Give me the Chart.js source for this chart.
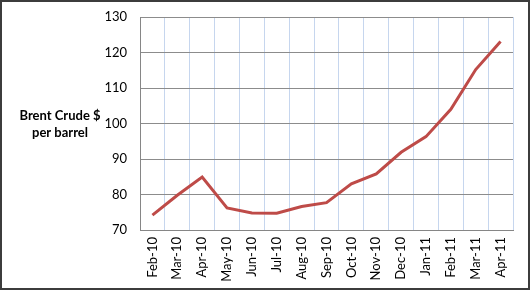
<!DOCTYPE html>
<html>
<head>
<meta charset="utf-8">
<script src="https://cdn.jsdelivr.net/npm/chart.js@4/dist/chart.umd.min.js"></script>
<style>
  html, body { margin: 0; padding: 0; background: #fff; }
  #wrap { width: 530px; height: 290px; }
</style>
</head>
<body>
<div id="wrap"><canvas id="oil-chart" width="530" height="290"></canvas></div>
<script>
// monthly Brent crude prices
const MONTHS = ["Feb-10", "Mar-10", "Apr-10", "May-10", "Jun-10", "Jul-10", "Aug-10", "Sep-10",
                "Oct-10", "Nov-10", "Dec-10", "Jan-11", "Feb-11", "Mar-11", "Apr-11"];
const BRENT = [74.2, 79.8, 84.9, 76.2, 74.8, 74.7, 76.6, 77.7,
               83.0, 85.8, 91.9, 96.3, 104.0, 115.2, 123.1];
const Y_TITLE = ["Brent Crude $", "per barrel"];

const FONT = "Lato, 'Liberation Sans', sans-serif";

// frame + horizontal axis title, as in the spreadsheet chart
const decor = {
    id: "decor",
    afterDraw(chart) {
        const ctx = chart.ctx;
        ctx.save();
        ctx.strokeStyle = "#3c3c3c";
        ctx.lineWidth = 2;
        ctx.strokeRect(1, 1, chart.width - 2, chart.height - 2);
        ctx.fillStyle = "#000";
        ctx.font = "bold 13px " + FONT;
        ctx.textAlign = "center";
        ctx.textBaseline = "middle";
        ctx.fillText(Y_TITLE[0], 60, 116);
        ctx.fillText(Y_TITLE[1], 60, 133);
        ctx.restore();
    }
};

new Chart(document.getElementById("oil-chart"), {
    type: "line",
    data: {
        labels: MONTHS,
        datasets: [{
            label: "Brent",
            data: BRENT,
            borderColor: "#BE4B48",
            borderWidth: 3,
            pointRadius: 0,
            tension: 0
        }]
    },
    options: {
        responsive: false,
        animation: false,
        layout: { padding: { left: 0, right: 17, top: 17, bottom: 0 } },
        plugins: { legend: { display: false }, tooltip: { enabled: false } },
        scales: {
            x: {
                offset: true,
                grid: { offset: true, color: "#C6D6EE", drawTicks: false },
                border: { color: "#868686" },
                ticks: {
                    color: "#000",
                    font: { family: FONT, size: 13 },
                    minRotation: 90,
                    maxRotation: 90,
                    autoSkip: false,
                    padding: 7
                },
                afterFit(scale) { scale.height = 60; }
            },
            y: {
                min: 70,
                max: 130,
                ticks: {
                    stepSize: 10,
                    color: "#000",
                    font: { family: FONT, size: 13 },
                    padding: 13
                },
                grid: { color: "#8C8C8C", drawTicks: false },
                border: { color: "#868686" },
                afterFit(scale) {
                    scale.width = 140;
                    // tick padding otherwise pushes the plot top down
                    scale.paddingTop = 0;
                    scale.paddingBottom = 0;
                }
            }
        }
    },
    plugins: [decor]
});
</script>
</body>
</html>
